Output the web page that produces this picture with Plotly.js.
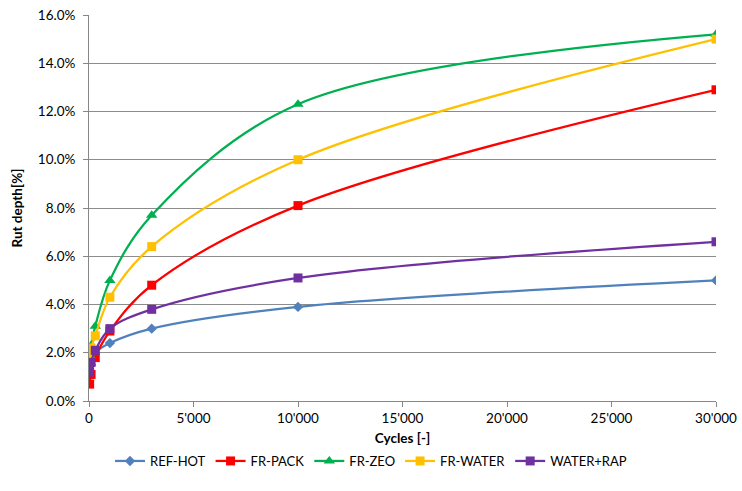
<!DOCTYPE html>
<html>
<head>
<meta charset="utf-8">
<script src="https://cdn.plot.ly/plotly-3.0.1.min.js"></script>
<style>html,body{margin:0;padding:0;background:#fff;}#chart{width:742px;height:491px;}</style>
</head>
<body>
<div id="chart"></div>
<script>
var cycles = [30, 100, 300, 1000, 3000, 10000, 30000];
var refHot   = [1.1, 1.5, 2.0, 2.4, 3.0, 3.9, 5.0];
var frPack   = [0.7, 1.1, 1.8, 2.9, 4.8, 8.1, 12.9];
var frZeo    = [1.9, 2.3, 3.1, 5.0, 7.7, 12.3, 15.2];
var frWater  = [1.85, 2.2, 2.7, 4.3, 6.4, 10.0, 15.0];
var waterRap = [1.2, 1.6, 2.1, 3.0, 3.8, 5.1, 6.6];

var names   = ['REF-HOT', 'FR-PACK', 'FR-ZEO', 'FR-WATER', 'WATER+RAP'];
var series  = [refHot, frPack, frZeo, frWater, waterRap];
var colors  = ['#4F81BD', '#FF0000', '#00B050', '#FFC000', '#7030A0'];
var symbols = ['diamond', 'square', 'triangle-up', 'square', 'square'];
var sizes   = [8, 9, 10, 9, 9];

var traces = series.map(function(s, i) {
  return {
    x: cycles, y: s, name: names[i], type: 'scatter', mode: 'lines+markers',
    line: {color: colors[i], width: 2.25, shape: 'spline', smoothing: 1},
    marker: {color: colors[i], symbol: symbols[i], size: sizes[i]}
  };
});

var fam = 'Lato, "Liberation Sans", sans-serif';
var layout = {
  width: 742, height: 491,
  margin: {l: 89, r: 26, t: 15, b: 90},
  paper_bgcolor: '#fff', plot_bgcolor: '#fff',
  separators: ".'",
  font: {family: fam, size: 13, color: '#000'},
  showlegend: true,
  legend: {orientation: 'h', x: 0.5, xanchor: 'center', xref: 'container',
           y: 30 / 491, yanchor: 'middle', yref: 'container',
           itemwidth: 30,
           font: {family: fam, size: 13, color: '#000'}},
  xaxis: {
    range: [0, 30000], dtick: 5000, tick0: 0, tickformat: ',d',
    showgrid: false, zeroline: false, showline: true, linecolor: '#868686', linewidth: 1,
    ticks: 'outside', ticklen: 5, tickcolor: '#868686',
    title: {text: '<b>Cycles [-]</b>', font: {family: fam, size: 13.5, color: '#000'}, standoff: 14},
    tickfont: {family: fam, size: 13.5, color: '#000'}
  },
  yaxis: {
    range: [0, 16], dtick: 2, tick0: 0, tickformat: '.1f', ticksuffix: '%',
    showgrid: true, gridcolor: '#8C8C8C', gridwidth: 1, zeroline: false,
    showline: true, linecolor: '#868686', linewidth: 1,
    ticks: 'outside', ticklen: 5, tickcolor: '#868686', ticklabelstandoff: 5,
    title: {text: '<b>Rut depth[%]</b>', font: {family: fam, size: 13.5, color: '#000'}, standoff: 12},
    tickfont: {family: fam, size: 13.5, color: '#000'}
  }
};
Plotly.newPlot('chart', traces, layout, {displayModeBar: false, staticPlot: true});
</script>
</body>
</html>
